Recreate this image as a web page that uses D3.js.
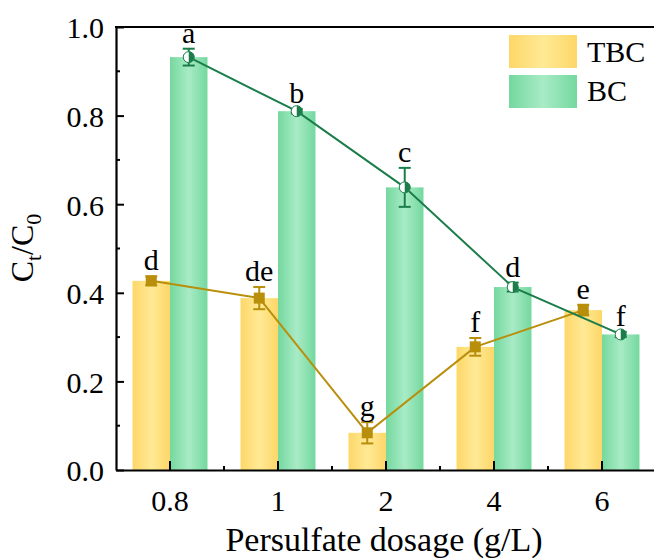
<!DOCTYPE html>
<html><head><meta charset="utf-8">
<script src="https://cdn.jsdelivr.net/npm/d3@7"></script>
<style>body{margin:0;background:#fff}svg{display:block}text{font-family:"Liberation Serif","Times New Roman",serif;fill:#000}</style>
</head><body>
<svg id="c" width="654" height="559"></svg>
<script>
const categories = ["0.8", "1", "2", "4", "6"];
const seriesNames = ["TBC", "BC"];
const tbcValues = [0.427, 0.388, 0.084, 0.278, 0.361];
const bcValues = [0.932, 0.810, 0.638, 0.413, 0.306];
const tbcErrors = [0.010, 0.025, 0.024, 0.020, 0.012];
const bcErrors = [0.019, 0.005, 0.044, 0.010, 0.006];
const tbcLetters = ["d", "de", "g", "f", "e"];
const bcLetters = ["a", "b", "c", "d", "f"];
const yTicks = [0, 0.2, 0.4, 0.6, 0.8, 1.0];
const yMinorTicks = [0.1, 0.3, 0.5, 0.7, 0.9];

(function () {
const svg = d3.select("#c");
const pL = 116, pR = 656, pT = 27, pB = 470;
const x = d3.scaleBand().domain(categories).range([pL, pR]).paddingInner(0).paddingOuter(0);
const y = d3.scaleLinear().domain([0, 1]).range([pB, pT]);
const barW = x.bandwidth() * 0.347;
const colTBC = {edge: "#FDD768", mid: "#FFE995", line: "#B88E0A"};
const colBC = {edge: "#74D89E", mid: "#A8EBC6", line: "#1B7D4A"};

const defs = svg.append("defs");
function grad(id, c) {
  const g = defs.append("linearGradient").attr("id", id).attr("x1", "0%").attr("x2", "100%").attr("y1", "0%").attr("y2", "0%");
  g.append("stop").attr("offset", "0%").attr("stop-color", c.edge);
  g.append("stop").attr("offset", "50%").attr("stop-color", c.mid);
  g.append("stop").attr("offset", "100%").attr("stop-color", c.edge);
}
grad("gT", colTBC); grad("gB", colBC);

const series = [
  {name: "TBC", vals: tbcValues, errs: tbcErrors, letters: tbcLetters, fill: "url(#gT)", col: colTBC, off: -1},
  {name: "BC", vals: bcValues, errs: bcErrors, letters: bcLetters, fill: "url(#gB)", col: colBC, off: 1}
];
const cx = (cat, off) => x(cat) + x.bandwidth() / 2 + off * barW / 2;

series.forEach(s => {
  svg.append("g").selectAll("rect").data(categories).join("rect")
    .attr("x", d => cx(d, s.off) - barW / 2)
    .attr("width", barW)
    .attr("y", (d, i) => y(s.vals[i]))
    .attr("height", (d, i) => y(0) - y(s.vals[i]))
    .attr("fill", s.fill);
});

const yAxis = svg.append("g").attr("transform", `translate(${pL},0)`)
  .call(d3.axisLeft(y).tickValues(yTicks).tickFormat(d3.format(".1f")).tickSizeInner(-8).tickSizeOuter(0).tickPadding(12));
yAxis.append("g").selectAll("line").data(yMinorTicks).join("line")
  .attr("x1", 0).attr("x2", 4).attr("y1", d => y(d)).attr("y2", d => y(d)).attr("stroke", "#000").attr("stroke-width", 2);
const xAxis = svg.append("g").attr("transform", `translate(0,${pB})`)
  .call(d3.axisBottom(x).tickSizeInner(-9).tickSizeOuter(0).tickPadding(20));
xAxis.append("g").selectAll("line").data(categories.slice(1)).join("line")
  .attr("x1", d => x(d)).attr("x2", d => x(d)).attr("y1", 0).attr("y2", -4).attr("stroke", "#000").attr("stroke-width", 2);
[yAxis, xAxis].forEach(a => {
  a.select(".domain").attr("stroke-width", 2.2);
  a.selectAll(".tick line").attr("stroke-width", 2);
  a.selectAll("text").style("font-size", "30px").style("font-family", "'Liberation Serif', serif").attr("fill", "#000");
});
yAxis.selectAll(".tick text").attr("dy", "0.36em");
xAxis.selectAll(".tick text").attr("dy", "0.71em");
svg.append("line").attr("x1", pL - 1).attr("x2", pR).attr("y1", pT).attr("y2", pT).attr("stroke", "#000").attr("stroke-width", 2.2);

series.forEach(s => {
  const pts = categories.map((c, i) => [cx(c, s.off), y(s.vals[i])]);
  svg.append("path").attr("d", d3.line()(pts)).attr("fill", "none").attr("stroke", s.col.line).attr("stroke-width", 2);
  const g = svg.append("g");
  categories.forEach((c, i) => {
    const px = cx(c, s.off), v = s.vals[i], e = s.errs[i];
    const y1 = y(v + e), y2 = y(v - e);
    g.append("line").attr("x1", px).attr("x2", px).attr("y1", y1).attr("y2", y2).attr("stroke", s.col.line).attr("stroke-width", 2);
    [y1, y2].forEach(yy => g.append("line").attr("x1", px - 6).attr("x2", px + 6).attr("y1", yy).attr("y2", yy).attr("stroke", s.col.line).attr("stroke-width", 2));
    if (s.name === "TBC") {
      g.append("rect").attr("x", px - 5.5).attr("y", y(v) - 5.5).attr("width", 11).attr("height", 11).attr("fill", s.col.line);
    } else {
      const r = 5.5, py = y(v);
      g.append("circle").attr("cx", px).attr("cy", py).attr("r", r).attr("fill", "#fff").attr("stroke", s.col.line).attr("stroke-width", 1);
      g.append("path").attr("d", `M${px},${py - r}A${r},${r} 0 0 1 ${px},${py + r}Z`).attr("fill", s.col.line);
    }
    svg.append("text").attr("x", px).attr("y", y(v + e) - 6).attr("text-anchor", "middle")
      .style("font-size", "30px").text(s.letters[i]);
  });
});

const legend = svg.append("g");
seriesNames.forEach((n, i) => {
  const s = series[i];
  legend.append("rect").attr("x", 509).attr("y", 35 + i * 40).attr("width", 68).attr("height", 33).attr("fill", s.fill);
  legend.append("text").attr("x", 587).attr("y", 62 + i * 39).style("font-size", "30px").text(n);
});

svg.append("text").attr("x", 384).attr("y", 551).attr("text-anchor", "middle").style("font-size", "34px").text("Persulfate dosage (g/L)");
const yt = svg.append("text").attr("transform", "translate(33,248) rotate(-90)").attr("text-anchor", "middle").style("font-size", "32px");
yt.append("tspan").text("C");
yt.append("tspan").attr("dy", 8).style("font-size", "22px").text("t");
yt.append("tspan").attr("dy", -8).text("/C");
yt.append("tspan").attr("dy", 8).style("font-size", "22px").text("0");
})();
</script>
</body></html>
